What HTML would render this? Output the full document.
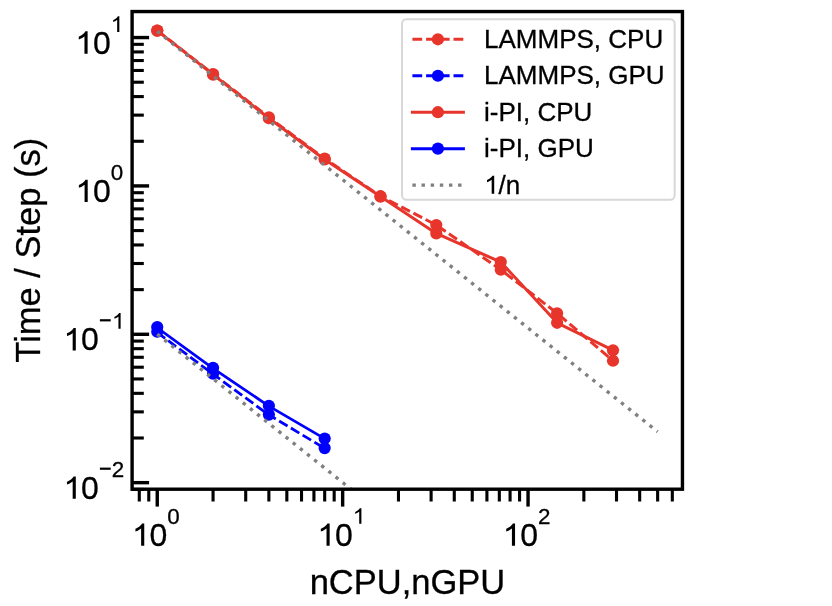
<!DOCTYPE html><html><head><meta charset="utf-8"><style>html,body{margin:0;padding:0;background:#fff;}svg{display:block;will-change:transform;}text{font-family:"Liberation Sans", sans-serif;fill:#000;stroke:#000;stroke-width:0.3px;}</style></head><body><svg width="832" height="606" viewBox="0 0 832 606"><rect x="0" y="0" width="832" height="606" fill="#fff"/><defs><clipPath id="ax"><rect x="132.1" y="11.55" width="550.35" height="477.65"/></clipPath></defs><g clip-path="url(#ax)"><polyline points="157.25,30.6 213.06,74 268.87,117.4 324.68,158.65 380.49,196.2 436.3,225 500.8,269.7 557.1,313.3 613,360.7" fill="none" stroke="#e8352b" stroke-width="3" stroke-linejoin="round" stroke-linecap="butt" stroke-dasharray="9.8 3.9"/><circle cx="157.25" cy="30.6" r="6.1" fill="#e8352b"/><circle cx="213.06" cy="74" r="6.1" fill="#e8352b"/><circle cx="268.87" cy="117.4" r="6.1" fill="#e8352b"/><circle cx="324.68" cy="158.65" r="6.1" fill="#e8352b"/><circle cx="380.49" cy="196.2" r="6.1" fill="#e8352b"/><circle cx="436.3" cy="225" r="6.1" fill="#e8352b"/><circle cx="500.8" cy="269.7" r="6.1" fill="#e8352b"/><circle cx="557.1" cy="313.3" r="6.1" fill="#e8352b"/><circle cx="613" cy="360.7" r="6.1" fill="#e8352b"/><polyline points="157.25,332.5 213.06,374.1 268.87,414.9 324.68,448.3" fill="none" stroke="#0000ff" stroke-width="2.8" stroke-linejoin="round" stroke-linecap="butt" stroke-dasharray="9.8 3.9"/><circle cx="157.25" cy="331.7" r="6.1" fill="#0000ff"/><circle cx="213.06" cy="373.6" r="6.1" fill="#0000ff"/><circle cx="268.87" cy="414.6" r="6.1" fill="#0000ff"/><circle cx="324.68" cy="448.1" r="6.1" fill="#0000ff"/><polyline points="157.25,30.6 213.06,74.65 268.87,118.2 324.68,159.45 380.49,196.6 436.3,233.4 500.8,262.1 557.1,322.8 613,350.3" fill="none" stroke="#e8352b" stroke-width="3" stroke-linejoin="round" stroke-linecap="square"/><circle cx="157.25" cy="30.6" r="6.1" fill="#e8352b"/><circle cx="213.06" cy="74.65" r="6.1" fill="#e8352b"/><circle cx="268.87" cy="118.2" r="6.1" fill="#e8352b"/><circle cx="324.68" cy="159.45" r="6.1" fill="#e8352b"/><circle cx="380.49" cy="196.6" r="6.1" fill="#e8352b"/><circle cx="436.3" cy="233.4" r="6.1" fill="#e8352b"/><circle cx="500.8" cy="262.1" r="6.1" fill="#e8352b"/><circle cx="557.1" cy="322.8" r="6.1" fill="#e8352b"/><circle cx="613" cy="350.3" r="6.1" fill="#e8352b"/><polyline points="157.25,327.8 213.06,368.3 268.87,406.1 324.68,438.7" fill="none" stroke="#0000ff" stroke-width="2.8" stroke-linejoin="round" stroke-linecap="square"/><circle cx="157.25" cy="327" r="6.1" fill="#0000ff"/><circle cx="213.06" cy="367.8" r="6.1" fill="#0000ff"/><circle cx="268.87" cy="405.8" r="6.1" fill="#0000ff"/><circle cx="324.68" cy="438.5" r="6.1" fill="#0000ff"/><line x1="157.25" y1="31.3" x2="657.64" y2="431.75" stroke="#808080" stroke-width="3.4" stroke-dasharray="3.4 5.74"/><line x1="157.25" y1="334.1" x2="657.64" y2="734.55" stroke="#808080" stroke-width="3.4" stroke-dasharray="3.4 5.74"/></g><line x1="139.28" y1="489.2" x2="139.28" y2="501.5" stroke="#000" stroke-width="3.1"/><line x1="148.77" y1="489.2" x2="148.77" y2="501.5" stroke="#000" stroke-width="3.1"/><line x1="157.25" y1="489.2" x2="157.25" y2="506.6" stroke="#000" stroke-width="3.4"/><line x1="213.06" y1="489.2" x2="213.06" y2="501.5" stroke="#000" stroke-width="3.1"/><line x1="245.71" y1="489.2" x2="245.71" y2="501.5" stroke="#000" stroke-width="3.1"/><line x1="268.87" y1="489.2" x2="268.87" y2="501.5" stroke="#000" stroke-width="3.1"/><line x1="286.84" y1="489.2" x2="286.84" y2="501.5" stroke="#000" stroke-width="3.1"/><line x1="301.52" y1="489.2" x2="301.52" y2="501.5" stroke="#000" stroke-width="3.1"/><line x1="313.93" y1="489.2" x2="313.93" y2="501.5" stroke="#000" stroke-width="3.1"/><line x1="324.68" y1="489.2" x2="324.68" y2="501.5" stroke="#000" stroke-width="3.1"/><line x1="334.17" y1="489.2" x2="334.17" y2="501.5" stroke="#000" stroke-width="3.1"/><line x1="342.65" y1="489.2" x2="342.65" y2="506.6" stroke="#000" stroke-width="3.4"/><line x1="398.46" y1="489.2" x2="398.46" y2="501.5" stroke="#000" stroke-width="3.1"/><line x1="431.11" y1="489.2" x2="431.11" y2="501.5" stroke="#000" stroke-width="3.1"/><line x1="454.27" y1="489.2" x2="454.27" y2="501.5" stroke="#000" stroke-width="3.1"/><line x1="472.24" y1="489.2" x2="472.24" y2="501.5" stroke="#000" stroke-width="3.1"/><line x1="486.92" y1="489.2" x2="486.92" y2="501.5" stroke="#000" stroke-width="3.1"/><line x1="499.33" y1="489.2" x2="499.33" y2="501.5" stroke="#000" stroke-width="3.1"/><line x1="510.08" y1="489.2" x2="510.08" y2="501.5" stroke="#000" stroke-width="3.1"/><line x1="519.57" y1="489.2" x2="519.57" y2="501.5" stroke="#000" stroke-width="3.1"/><line x1="528.05" y1="489.2" x2="528.05" y2="506.6" stroke="#000" stroke-width="3.4"/><line x1="583.86" y1="489.2" x2="583.86" y2="501.5" stroke="#000" stroke-width="3.1"/><line x1="616.51" y1="489.2" x2="616.51" y2="501.5" stroke="#000" stroke-width="3.1"/><line x1="639.67" y1="489.2" x2="639.67" y2="501.5" stroke="#000" stroke-width="3.1"/><line x1="657.64" y1="489.2" x2="657.64" y2="501.5" stroke="#000" stroke-width="3.1"/><line x1="672.32" y1="489.2" x2="672.32" y2="501.5" stroke="#000" stroke-width="3.1"/><line x1="132.1" y1="489.45" x2="143.8" y2="489.45" stroke="#000" stroke-width="3.1"/><line x1="132.1" y1="482.66" x2="149.1" y2="482.66" stroke="#000" stroke-width="3.4"/><line x1="132.1" y1="438" x2="143.8" y2="438" stroke="#000" stroke-width="3.1"/><line x1="132.1" y1="411.87" x2="143.8" y2="411.87" stroke="#000" stroke-width="3.1"/><line x1="132.1" y1="393.33" x2="143.8" y2="393.33" stroke="#000" stroke-width="3.1"/><line x1="132.1" y1="378.95" x2="143.8" y2="378.95" stroke="#000" stroke-width="3.1"/><line x1="132.1" y1="367.21" x2="143.8" y2="367.21" stroke="#000" stroke-width="3.1"/><line x1="132.1" y1="357.27" x2="143.8" y2="357.27" stroke="#000" stroke-width="3.1"/><line x1="132.1" y1="348.67" x2="143.8" y2="348.67" stroke="#000" stroke-width="3.1"/><line x1="132.1" y1="341.08" x2="143.8" y2="341.08" stroke="#000" stroke-width="3.1"/><line x1="132.1" y1="334.29" x2="149.1" y2="334.29" stroke="#000" stroke-width="3.4"/><line x1="132.1" y1="289.63" x2="143.8" y2="289.63" stroke="#000" stroke-width="3.1"/><line x1="132.1" y1="263.5" x2="143.8" y2="263.5" stroke="#000" stroke-width="3.1"/><line x1="132.1" y1="244.96" x2="143.8" y2="244.96" stroke="#000" stroke-width="3.1"/><line x1="132.1" y1="230.58" x2="143.8" y2="230.58" stroke="#000" stroke-width="3.1"/><line x1="132.1" y1="218.84" x2="143.8" y2="218.84" stroke="#000" stroke-width="3.1"/><line x1="132.1" y1="208.9" x2="143.8" y2="208.9" stroke="#000" stroke-width="3.1"/><line x1="132.1" y1="200.3" x2="143.8" y2="200.3" stroke="#000" stroke-width="3.1"/><line x1="132.1" y1="192.71" x2="143.8" y2="192.71" stroke="#000" stroke-width="3.1"/><line x1="132.1" y1="185.92" x2="149.1" y2="185.92" stroke="#000" stroke-width="3.4"/><line x1="132.1" y1="141.26" x2="143.8" y2="141.26" stroke="#000" stroke-width="3.1"/><line x1="132.1" y1="115.13" x2="143.8" y2="115.13" stroke="#000" stroke-width="3.1"/><line x1="132.1" y1="96.59" x2="143.8" y2="96.59" stroke="#000" stroke-width="3.1"/><line x1="132.1" y1="82.21" x2="143.8" y2="82.21" stroke="#000" stroke-width="3.1"/><line x1="132.1" y1="70.47" x2="143.8" y2="70.47" stroke="#000" stroke-width="3.1"/><line x1="132.1" y1="60.53" x2="143.8" y2="60.53" stroke="#000" stroke-width="3.1"/><line x1="132.1" y1="51.93" x2="143.8" y2="51.93" stroke="#000" stroke-width="3.1"/><line x1="132.1" y1="44.34" x2="143.8" y2="44.34" stroke="#000" stroke-width="3.1"/><line x1="132.1" y1="37.55" x2="149.1" y2="37.55" stroke="#000" stroke-width="3.4"/><rect x="132.1" y="11.55" width="550.35" height="477.65" fill="none" stroke="#000" stroke-width="3.4" stroke-linejoin="miter"/><rect x="402" y="19.15" width="272.65" height="180.6" rx="4.5" ry="4.5" fill="#fff" stroke="#d8d8d8" stroke-width="2"/><line x1="412.4" y1="39.3" x2="463.4" y2="39.3" stroke="#e8352b" stroke-width="3" stroke-dasharray="9.8 3.9"/><circle cx="437.9" cy="39.3" r="6.1" fill="#e8352b"/><text x="484.05" y="48" font-size="26">LAMMPS, CPU</text><line x1="412.4" y1="75.75" x2="463.4" y2="75.75" stroke="#0000ff" stroke-width="3" stroke-dasharray="9.8 3.9"/><circle cx="437.9" cy="75.75" r="6.1" fill="#0000ff"/><text x="484.05" y="84.45" font-size="26">LAMMPS, GPU</text><line x1="412.4" y1="112.2" x2="463.4" y2="112.2" stroke="#e8352b" stroke-width="3" stroke-linecap="square"/><circle cx="437.9" cy="112.2" r="6.1" fill="#e8352b"/><text x="484.05" y="120.9" font-size="26">i-PI, CPU</text><line x1="412.4" y1="148.65" x2="463.4" y2="148.65" stroke="#0000ff" stroke-width="3" stroke-linecap="square"/><circle cx="437.9" cy="148.65" r="6.1" fill="#0000ff"/><text x="484.05" y="157.35" font-size="26">i-PI, GPU</text><line x1="412.4" y1="185.1" x2="463.4" y2="185.1" stroke="#808080" stroke-width="3.4" stroke-dasharray="3.4 5.74"/><polygon points="494.21,193.8 491.67,193.8 491.67,179.71 491.03,180.24 490.14,180.79 489.26,181.3 488.37,181.68 487.6,181.99 487.03,182.22 487.03,179.96 487.99,179.52 488.93,179 489.76,178.44 490.52,177.83 491.29,177.17 491.92,176.41 492.43,175.65 494.21,175.65" fill="#000"/><text x="498.51" y="193.8" font-size="26">/n</text><polygon points="87.6,53.7 84.47,53.7 84.47,36.36 83.69,37.01 82.6,37.68 81.51,38.31 80.41,38.78 79.47,39.17 78.77,39.45 78.77,36.67 79.94,36.12 81.1,35.48 82.13,34.79 83.07,34.04 84.01,33.23 84.79,32.29 85.41,31.36 87.6,31.36" fill="#000"/><text x="92.9" y="53.7" font-size="32">0</text><polygon points="119.35,32 117.16,32 117.16,19.86 116.62,20.32 115.85,20.79 115.08,21.23 114.32,21.55 113.66,21.83 113.17,22.02 113.17,20.08 113.99,19.7 114.8,19.25 115.52,18.77 116.18,18.24 116.83,17.67 117.38,17.02 117.82,16.36 119.35,16.36" fill="#000"/><polygon points="87.7,202.05 84.58,202.05 84.58,184.71 83.79,185.36 82.7,186.03 81.61,186.66 80.51,187.13 79.58,187.52 78.87,187.8 78.87,185.02 80.04,184.47 81.2,183.83 82.23,183.14 83.17,182.39 84.11,181.58 84.89,180.64 85.51,179.71 87.7,179.71" fill="#000"/><text x="93" y="202.05" font-size="32">0</text><text x="110.7" y="180.35" font-size="22.4">0</text><polygon points="75.8,350.4 72.67,350.4 72.67,333.06 71.89,333.71 70.8,334.38 69.71,335.01 68.61,335.48 67.67,335.87 66.97,336.15 66.97,333.37 68.14,332.82 69.3,332.18 70.33,331.49 71.27,330.74 72.21,329.93 72.99,328.99 73.61,328.06 75.8,328.06" fill="#000"/><text x="81.1" y="350.4" font-size="32">0</text><rect x="99.9" y="319.2" width="10.8" height="2.2" fill="#000"/><polygon points="120.62,328.7 118.43,328.7 118.43,316.56 117.89,317.02 117.12,317.49 116.35,317.93 115.59,318.25 114.93,318.53 114.44,318.72 114.44,316.78 115.26,316.4 116.07,315.95 116.79,315.47 117.45,314.94 118.1,314.37 118.65,313.72 119.09,313.06 120.62,313.06" fill="#000"/><polygon points="75.8,498.8 72.67,498.8 72.67,481.46 71.89,482.11 70.8,482.78 69.71,483.41 68.61,483.88 67.67,484.27 66.97,484.55 66.97,481.77 68.14,481.22 69.3,480.58 70.33,479.89 71.27,479.14 72.21,478.33 72.99,477.39 73.61,476.46 75.8,476.46" fill="#000"/><text x="81.1" y="498.8" font-size="32">0</text><rect x="99.9" y="467.6" width="10.8" height="2.2" fill="#000"/><text x="111.87" y="477.1" font-size="22.4">2</text><polygon points="144.25,545.8 141.12,545.8 141.12,528.46 140.34,529.11 139.25,529.78 138.16,530.41 137.06,530.88 136.12,531.27 135.42,531.55 135.42,528.77 136.59,528.22 137.75,527.58 138.78,526.89 139.72,526.14 140.66,525.33 141.44,524.39 142.06,523.46 144.25,523.46" fill="#000"/><text x="149.55" y="545.8" font-size="32">0</text><text x="167.25" y="523.8" font-size="22.4">0</text><polygon points="329.65,545.8 326.52,545.8 326.52,528.46 325.74,529.11 324.65,529.78 323.56,530.41 322.46,530.88 321.52,531.27 320.82,531.55 320.82,528.77 321.99,528.22 323.15,527.58 324.18,526.89 325.12,526.14 326.06,525.33 326.84,524.39 327.46,523.46 329.65,523.46" fill="#000"/><text x="334.95" y="545.8" font-size="32">0</text><polygon points="361.4,523.8 359.21,523.8 359.21,511.66 358.67,512.12 357.9,512.59 357.13,513.03 356.37,513.35 355.71,513.63 355.22,513.82 355.22,511.88 356.04,511.5 356.85,511.05 357.57,510.57 358.23,510.04 358.88,509.47 359.43,508.82 359.87,508.16 361.4,508.16" fill="#000"/><polygon points="515.05,545.8 511.92,545.8 511.92,528.46 511.14,529.11 510.05,529.78 508.96,530.41 507.86,530.88 506.92,531.27 506.22,531.55 506.22,528.77 507.39,528.22 508.55,527.58 509.58,526.89 510.52,526.14 511.46,525.33 512.24,524.39 512.86,523.46 515.05,523.46" fill="#000"/><text x="520.35" y="545.8" font-size="32">0</text><text x="538.05" y="523.8" font-size="22.4">2</text><text x="309.65" y="593.6" font-size="34.5">nCPU,nGPU</text><text transform="translate(39.7,362.65) rotate(-90)" x="0" y="0" font-size="34.5">Time / Step (s)</text></svg></body></html>
